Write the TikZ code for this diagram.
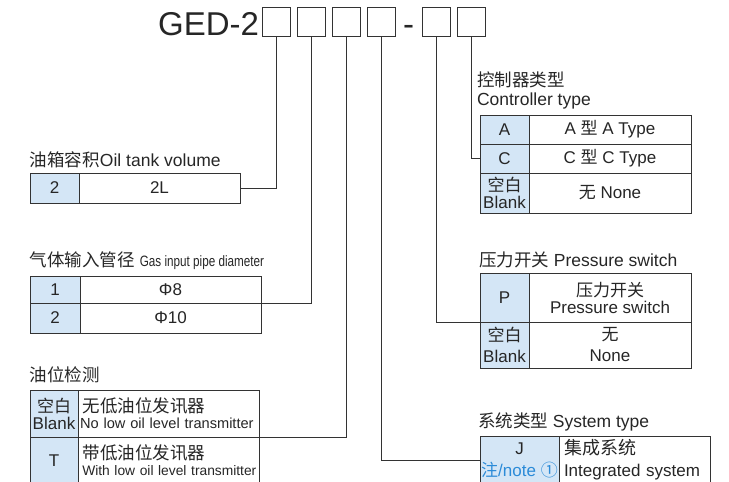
\documentclass[tikz,border=0pt]{standalone}
\usepackage{fontspec}
\setmainfont{Liberation Sans}
\newfontfamily\cjk{Noto Sans CJK SC}
\newfontfamily\narrow[FakeStretch=0.78]{Liberation Sans}
\newcommand{\zh}[1]{{\cjk #1}}
\usetikzlibrary{positioning}
\definecolor{codeblue}{HTML}{D4E6F6}
\definecolor{noteblue}{HTML}{2B8BD8}
\definecolor{linegray}{HTML}{333333}
\tikzset{
    x=1pt, y=-1pt, % one unit is one pixel, y grows downwards
    every node/.style={inner sep=0pt, outer sep=0pt, text=black!85}, % cells share their borders
    digitbox/.style={draw=linegray, line width=1pt, minimum width=28pt, minimum height=29pt}, % empty code boxes
    codecell/.style={draw=linegray, line width=0.9pt, fill=codeblue, align=center, font=\fontsize{17}{17}\selectfont},
    desccell/.style={draw=linegray, line width=0.9pt, fill=white, align=center, font=\fontsize{17}{17}\selectfont},
    grouptitle/.style={anchor=base west, font=\fontsize{17.5}{18}\selectfont},
    link/.style={draw=linegray, line width=1pt},
}
\newcommand{\titlefont}{\fontsize{33}{33}\selectfont}

\begin{document}
\begin{tikzpicture}
    \useasboundingbox (0,0) rectangle (729,482);
    \clip (0,0) rectangle (729,482);

    % model code
    \node[anchor=base east, font=\titlefont] (model) at (259,35) {GED-2};
    \node[digitbox] (d1) at (276,21.5) {};
    \node[digitbox] (d2) at (311,21.5) {};
    \node[digitbox] (d3) at (346,21.5) {};
    \node[digitbox] (d4) at (381,21.5) {};
    \node[anchor=base, font=\titlefont] (dash) at (408.5,35) {-};
    \node[digitbox] (d5) at (436,21.5) {};
    \node[digitbox] (d6) at (471,21.5) {};

    % oil tank volume
    \node[grouptitle] (volT) at (30,166.5) {\zh{油箱容积}Oil tank volume};
    \node[codecell, minimum width=49pt, minimum height=30pt, anchor=north west] (vol1) at (30,173) {2};
    \node[desccell, minimum width=161pt, minimum height=30pt, right=0pt of vol1] (vol2) {2L};

    % gas input pipe diameter
    \node[grouptitle] (diaT) at (30,266) {\zh{气体输入管径} {\narrow\fontsize{15}{15}\selectfont Gas input pipe diameter}};
    \node[codecell, minimum width=50pt, minimum height=27pt, anchor=north west] (dia1) at (30,276) {1};
    \node[desccell, minimum width=181pt, minimum height=27pt, right=0pt of dia1] (dia2) {Φ8};
    \node[codecell, minimum width=50pt, minimum height=30pt, below=0pt of dia1] (dia3) {2};
    \node[desccell, minimum width=181pt, minimum height=30pt, right=0pt of dia3] (dia4) {Φ10};

    % oil level check
    \node[grouptitle] (oilT) at (30,381) {\zh{油位检测}};
    \node[codecell, minimum width=48pt, minimum height=47pt, anchor=north west] (oil1) at (30,390) {\zh{空白}\\Blank};
    \node[desccell, align=left, text width=177pt, inner xsep=2pt, minimum height=47pt, right=0pt of oil1,
          font=\fontsize{14.6}{16}\selectfont] (oil2)
          {\mbox{\fontsize{17.5}{16}\selectfont\,\zh{无低油位发讯器}}\\\mbox{No low oil level transmitter}};
    \node[codecell, minimum width=48pt, minimum height=47pt, below=0pt of oil1] (oil3) {T};
    \node[desccell, align=left, text width=177pt, inner xsep=2pt, minimum height=47pt, right=0pt of oil3,
          font=\fontsize{13.8}{16}\selectfont] (oil4)
          {\mbox{\fontsize{17.5}{16}\selectfont\,\zh{带低油位发讯器}}\\\mbox{\,With low oil level transmitter}};

    % controller type
    \node[grouptitle] (ctlT) at (477,86) {\zh{控制器类型}};
    \node[grouptitle] (ctlE) at (477,105.5) {Controller type};
    \node[codecell, minimum width=49pt, minimum height=29pt, anchor=north west] (ctl1) at (480,115) {A};
    \node[desccell, minimum width=162pt, minimum height=29pt, right=0pt of ctl1] (ctl2) {A \zh{型} A Type};
    \node[codecell, minimum width=49pt, minimum height=29pt, below=0pt of ctl1] (ctl3) {C};
    \node[desccell, minimum width=162pt, minimum height=29pt, right=0pt of ctl3] (ctl4) {C \zh{型} C Type};
    \node[codecell, minimum width=49pt, minimum height=40pt, below=0pt of ctl3] (ctl5) {\zh{空白}\\Blank};
    \node[desccell, minimum width=162pt, minimum height=40pt, right=0pt of ctl5] (ctl6) {\zh{无} None};

    % pressure switch
    \node[grouptitle] (prsT) at (479,266.5) {\zh{压力开关} Pressure switch};
    \node[codecell, minimum width=49pt, minimum height=49pt, anchor=north west] (prs1) at (480,273) {P};
    \node[desccell, minimum width=162pt, minimum height=49pt, right=0pt of prs1] (prs2) {\zh{压力开关}\\Pressure switch};
    \node[codecell, minimum width=49pt, minimum height=46pt, below=0pt of prs1,
          font=\fontsize{17}{21}\selectfont] (prs3) {\zh{空白}\\Blank};
    \node[desccell, minimum width=162pt, minimum height=46pt, right=0pt of prs3,
          font=\fontsize{17}{21}\selectfont] (prs4) {\zh{无}\\None};

    % system type
    \node[grouptitle] (sysT) at (478,427) {\zh{系统类型} System type};
    \node[codecell, minimum width=79pt, minimum height=48pt, anchor=north west,
          font=\fontsize{17}{22}\selectfont] (sys1) at (480,436) {J\\{\color{noteblue}\zh{注}/note \zh{①}}};
    \node[desccell, align=left, text width=141pt, inner xsep=5pt, minimum height=48pt, right=0pt of sys1,
          font=\fontsize{17}{22}\selectfont] (sys2) {{\fontsize{18}{22}\selectfont\zh{集成系统}}\\Integrated system};

    % leader lines
    \draw[link] (d1.south) |- (vol2.east);
    \draw[link] (d2.south) |- (dia2.south east);
    \draw[link] (d3.south) |- (oil2.south east);
    \draw[link] (d4.south) |- (sys1.west);
    \draw[link] (d5.south) |- (prs1.south west);
    \draw[link] (d6.south) |- (ctl3.west);
\end{tikzpicture}
\end{document}
